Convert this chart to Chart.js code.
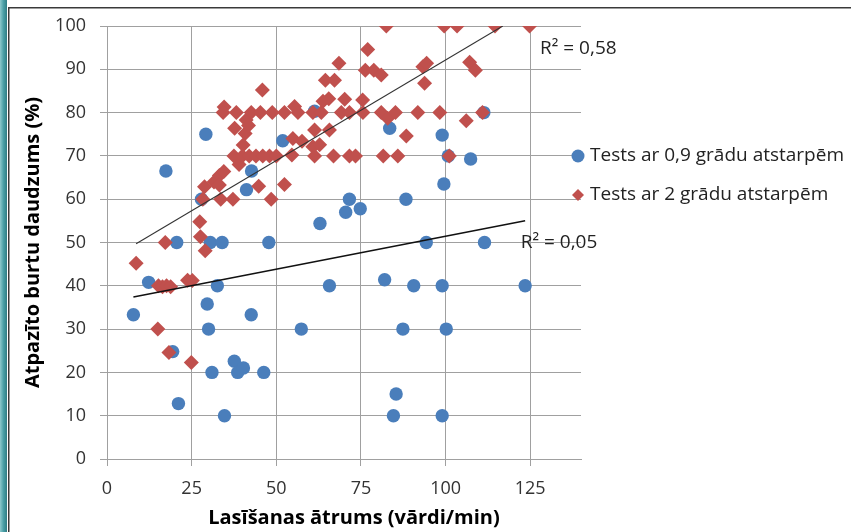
<!DOCTYPE html>
<html>
<head>
<meta charset="utf-8">
<title>Lasīšanas ātrums</title>
<script src="https://cdn.jsdelivr.net/npm/chart.js@4.4.0/dist/chart.umd.min.js"></script>
<style>
  html, body { margin: 0; padding: 0; background: #fff; }
  canvas { display: block; }
</style>
</head>
<body>
<canvas id="chart" width="851" height="532"></canvas>
<script>
// Tests ar 0,9 grādu atstarpēm (blue circles)
var blueX = [7.8, 12.3, 17.4, 19.4, 20.6, 21.1, 27.9, 29.2, 29.6, 30.0, 30.5, 31.0, 32.6, 34.0, 34.7, 37.6, 38.6, 40.3, 41.2, 42.6, 42.7, 46.3, 47.8, 51.9, 57.4, 61.3, 62.9, 65.7, 70.5, 71.6, 74.8, 82.0, 83.5, 84.6, 85.4, 87.4, 88.3, 90.6, 94.3, 99.0, 99.0, 99.0, 99.5, 100.2, 100.8, 107.4, 111.3, 111.5, 123.5];
var blueY = [33.3, 40.8, 66.5, 24.8, 50, 12.8, 60, 75, 35.8, 30, 50, 20, 40, 50, 10, 22.6, 20, 21, 62.2, 33.3, 66.5, 20, 50, 73.5, 30, 80.3, 54.4, 40, 57, 60, 57.8, 41.4, 76.4, 10, 15, 30, 60, 40, 50, 74.8, 40, 10, 63.5, 30, 70, 69.3, 80, 50, 40];

// Tests ar 2 grādu atstarpēm (red diamonds)
var redX = [8.6, 15.0, 15.2, 16.4, 17.6, 18.8, 17.2, 18.3, 23.8, 25.2,
            24.9, 27.6, 29.0, 27.4, 28.3, 28.8, 31.6, 33.2, 34.5, 33.2,
            33.6, 37.2, 34.6, 34.3, 38.2, 37.7, 41.1, 42.6, 40.8, 40.2,
            41.8, 37.5, 39.0, 40.0, 42.0, 44.0, 46.0, 48.0, 50.0, 54.6,
            44.8, 45.9, 45.3, 48.8, 52.4, 55.4, 56.4, 54.9, 57.6, 48.5,
            52.4, 60.8, 63.3, 60.8, 62.8, 61.3, 65.7, 61.3, 63.8, 65.5,
            64.5, 67.2, 66.9, 68.5, 69.2, 70.2, 71.6, 71.6, 73.4, 75.5,
            75.6, 77.0, 76.3, 78.8, 81.0, 81.0, 82.9, 81.6, 82.5, 85.2,
            85.9, 88.4, 91.8, 93.3, 94.4, 93.8, 98.3, 99.6, 103.4, 101.1,
            106.1, 107.1, 108.8, 110.9, 114.6, 124.8];
var redY = [45.2, 30, 40, 39.8, 40, 39.8, 50, 24.6, 41.3, 41.2,
            22.3, 51.3, 48.1, 54.8, 60, 62.9, 64.0, 65.5, 66.4, 63.3,
            60, 60, 81.3, 80, 80, 76.4, 78.3, 80, 75.2, 72.5,
            77.0, 70, 68.0, 70, 70, 70, 70, 70, 70, 70.2,
            63.0, 85.2, 80, 80, 80, 81.4, 80, 74.0, 73.4, 60,
            63.4, 80, 80, 72.1, 72.6, 76.0, 76.0, 70, 82.6, 83.2,
            87.5, 87.5, 70, 91.4, 80, 83.1, 80, 70, 70, 82.9,
            80, 94.6, 89.8, 89.8, 88.7, 80, 78.7, 70, 100, 80,
            70, 74.6, 80, 90.6, 91.4, 86.8, 80, 100, 100, 70,
            78.1, 91.6, 89.8, 80, 100, 100];

// linear trend lines (end points)
var blueTrendX = [7.8, 123.5];
var blueTrendY = [37.4, 55.0];
var redTrendX = [8.6, 116.9];
var redTrendY = [49.7, 100];

var r2Text = ['R\u00b2 = 0,58', 'R\u00b2 = 0,05'];
var r2X = [127.9, 122.2];
var r2Y = [94.8, 49.9];

var xTicks = [0, 25, 50, 75, 100, 125];

function pts(xs, ys) {
    return xs.map(function(x, i) { return { x: x, y: ys[i] }; });
}

var FONT = '"Open Sans", "Noto Sans", sans-serif';

var extras = {
    id: 'extras',
    beforeDraw: function(chart) {
        var c = chart.ctx;
        c.save();
        c.fillStyle = '#fff';
        c.fillRect(0, 0, chart.width, chart.height);
        // teal side bar + frame
        var g = c.createLinearGradient(0, 0, 7, 0);
        g.addColorStop(0, '#8cc8cc');
        g.addColorStop(0.5, '#4a9fa6');
        g.addColorStop(1, '#2f7d84');
        c.fillStyle = g;
        c.fillRect(0, 0, 7, chart.height);
        c.strokeStyle = '#3a3a3a';
        c.lineWidth = 1.5;
        c.beginPath();
        c.moveTo(8.75, chart.height);
        c.lineTo(8.75, 7.75);
        c.lineTo(chart.width, 7.75);
        c.stroke();
        c.restore();
    },
    afterDraw: function(chart) {
        var c = chart.ctx;
        var xs = chart.scales.x, ys = chart.scales.y;
        var area = chart.chartArea;
        c.save();
        // R² labels
        c.font = '19px ' + FONT;
        c.fillStyle = '#222';
        c.textAlign = 'left';
        c.textBaseline = 'middle';
        r2Text.forEach(function(t, i) {
            c.fillText(t, xs.getPixelForValue(r2X[i]), ys.getPixelForValue(r2Y[i]));
        });
        // legend
        var ds = chart.data.datasets;
        [0, 1].forEach(function(i, k) {
            var ly = 156 + k * 39;
            var lx = 578;
            c.fillStyle = ds[i].backgroundColor;
            c.beginPath();
            if (ds[i].pointStyle === 'rectRot') {
                c.moveTo(lx, ly - 6); c.lineTo(lx + 6, ly); c.lineTo(lx, ly + 6); c.lineTo(lx - 6, ly);
                c.closePath();
            } else {
                c.arc(lx, ly, 6.5, 0, Math.PI * 2);
            }
            c.fill();
            c.fillStyle = '#222';
            c.font = '19px ' + FONT;
            c.fillText(ds[i].label, 590, ly);
        });
        // x axis title
        c.font = 'bold 20px ' + FONT;
        c.fillStyle = '#000';
        c.textAlign = 'center';
        c.fillText('Lasīšanas ātrums (vārdi/min)', (area.left + area.right) / 2 + 10, 518);
        c.restore();
    }
};

var ctx = document.getElementById('chart').getContext('2d');
var chart = new Chart(ctx, {
    type: 'scatter',
    data: {
        datasets: [{
            label: 'Tests ar 0,9 grādu atstarpēm',
            data: pts(blueX, blueY),
            pointStyle: 'circle',
            pointRadius: 6.7,
            backgroundColor: '#4a7ebb',
            borderWidth: 0,
            order: 2
        }, {
            label: 'Tests ar 2 grādu atstarpēm',
            data: pts(redX, redY),
            pointStyle: 'rectRot',
            pointRadius: 7.5,
            backgroundColor: '#c0504d',
            borderWidth: 0,
            order: 1
        }, {
            label: 'trend 0,9',
            data: pts(blueTrendX, blueTrendY),
            showLine: true,
            pointRadius: 0,
            borderColor: '#111',
            borderWidth: 1.5,
            order: 0
        }, {
            label: 'trend 2',
            data: pts(redTrendX, redTrendY),
            showLine: true,
            pointRadius: 0,
            borderColor: '#333',
            borderWidth: 1.1,
            order: 0
        }]
    },
    options: {
        responsive: false,
        animation: false,
        events: [],
        layout: { padding: { left: 0, right: 270, top: 26, bottom: 0 } },
        plugins: {
            legend: { display: false },
            tooltip: { enabled: false }
        },
        scales: {
            x: {
                type: 'linear',
                min: 0,
                max: 140,
                afterBuildTicks: function(s) {
                    s.ticks = xTicks.map(function(v) { return { value: v }; });
                },
                afterFit: function(s) {
                    s.height = 73;
                    s.paddingLeft = 0;
                    s.paddingRight = 0;
                },
                ticks: { stepSize: 25, padding: 12, color: '#333', font: { family: FONT, size: 18 } },
                grid: { color: '#a0a0a0', tickLength: 7 },
                border: { color: '#a0a0a0' }
            },
            y: {
                min: 0,
                max: 100,
                afterFit: function(s) {
                    s.width = 107;
                    s.paddingTop = 0;
                    s.paddingBottom = 0;
                },
                ticks: { stepSize: 10, padding: 14, color: '#333', font: { family: FONT, size: 18 } },
                grid: { color: '#a0a0a0', tickLength: 7 },
                border: { color: '#a0a0a0' },
                title: {
                    display: true,
                    text: 'Atpazīto burtu daudzums (%)',
                    color: '#000',
                    font: { family: FONT, size: 20, weight: 'bold' },
                    padding: { top: 21, bottom: 0 }
                }
            }
        }
    },
    plugins: [extras]
});
</script>
</body>
</html>
